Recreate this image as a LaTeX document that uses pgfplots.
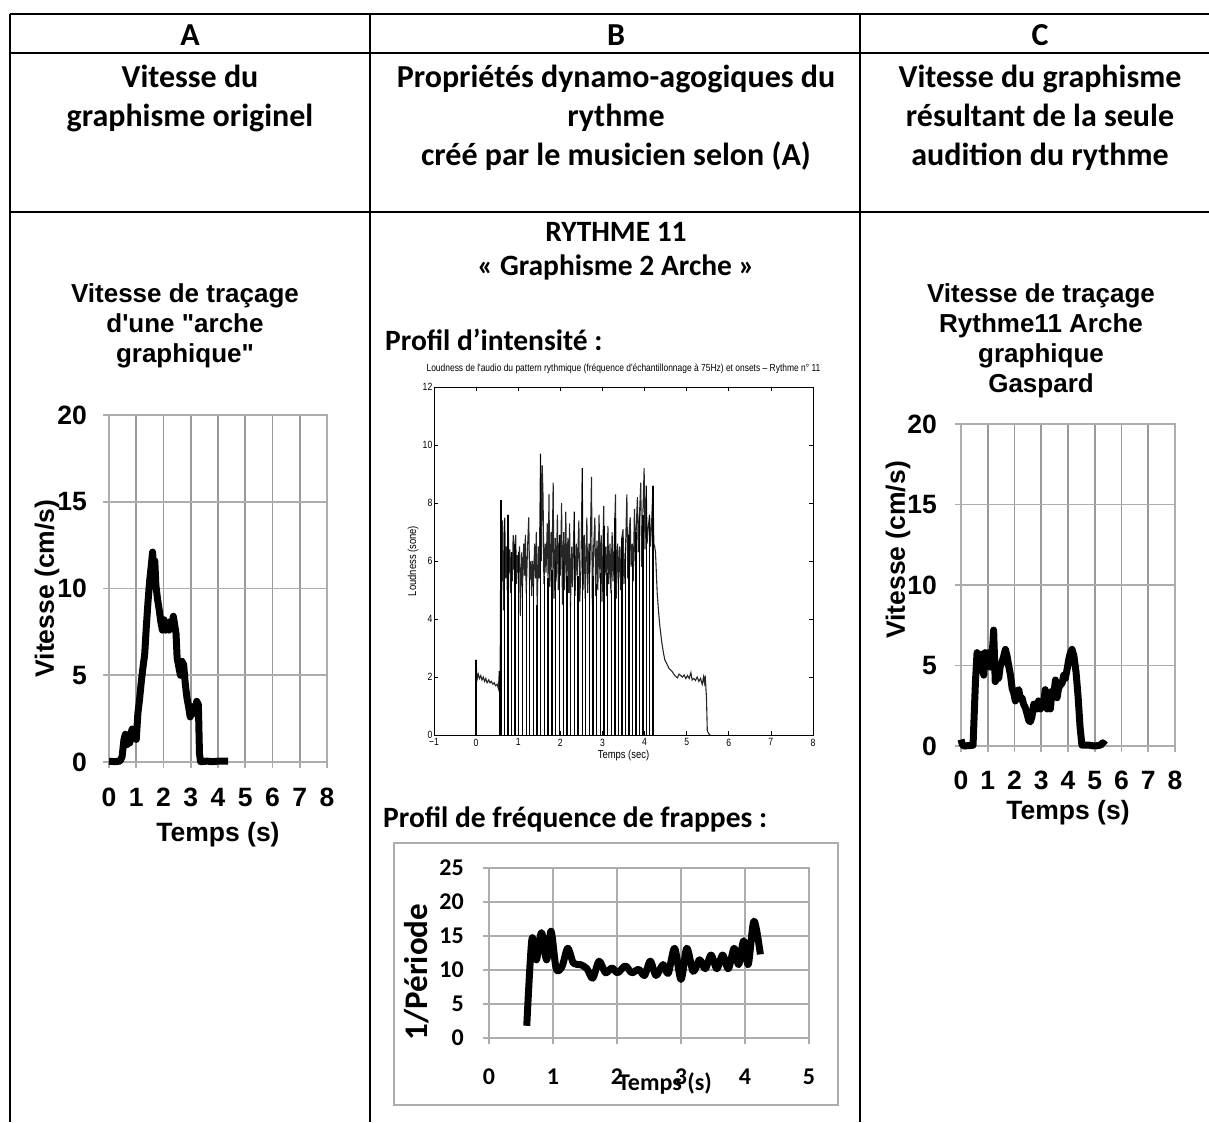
\documentclass[border=0pt]{standalone}
\usepackage{pgfplots}
\pgfplotsset{compat=1.18}
\usepackage{fontspec}
\setmainfont{Carlito}
\newfontfamily\arialfont{Liberation Sans}
\newfontfamily\narrowfont[FakeStretch=0.82]{Liberation Sans}
\newcommand\hf{\fontsize{32}{38}\selectfont\bfseries}
\newcommand\cf{\fontsize{29.5}{34}\selectfont\bfseries}
\newcommand\af{\arialfont\fontsize{26}{30}\selectfont\bfseries}
\newcommand\atf{\arialfont\fontsize{26.5}{30}\selectfont\bfseries}
\definecolor{gridgray}{HTML}{ADADAD}
\definecolor{vgridgray}{HTML}{999999}
\begin{document}
\begin{tikzpicture}
\useasboundingbox (0pt,0pt) rectangle (1209pt,-1122pt);
% table
\draw[line width=2.5pt] (10pt,-14pt) -- (1209pt,-14pt);
\draw[line width=1.8pt] (10pt,-53pt) -- (1209pt,-53pt);
\draw[line width=2.5pt] (10pt,-212pt) -- (1209pt,-212pt);
\foreach \xx in {10,370,860} {\draw[line width=1.8pt] (\xx pt,-14pt) -- (\xx pt,-1122pt);}
% header text
\node[anchor=base,inner sep=0pt,font=\hf] at (190pt,-45pt) {A};
\node[anchor=base,inner sep=0pt,font=\hf] at (616pt,-45pt) {B};
\node[anchor=base,inner sep=0pt,font=\hf] at (1040pt,-45pt) {C};
\node[anchor=base,inner sep=0pt,font=\hf] at (190pt,-87pt) {Vitesse du};
\node[anchor=base,inner sep=0pt,font=\hf] at (190pt,-126pt) {graphisme originel};
\node[anchor=base,inner sep=0pt,font=\hf] at (616pt,-87pt) {Propriétés dynamo-agogiques du};
\node[anchor=base,inner sep=0pt,font=\hf] at (616pt,-126pt) {rythme};
\node[anchor=base,inner sep=0pt,font=\hf] at (616pt,-165pt) {créé par le musicien selon (A)};
\node[anchor=base,inner sep=0pt,font=\hf] at (1040pt,-87pt) {Vitesse du graphisme};
\node[anchor=base,inner sep=0pt,font=\hf] at (1040pt,-126pt) {résultant de la seule};
\node[anchor=base,inner sep=0pt,font=\hf] at (1040pt,-165pt) {audition du rythme};
% content B text
\node[anchor=base,inner sep=0pt,font=\cf] at (616pt,-241pt) {RYTHME 11};
\node[anchor=base,inner sep=0pt,font=\cf] at (616pt,-275pt) {« Graphisme 2 Arche »};
\node[anchor=base west,inner sep=0pt,font=\cf] at (385pt,-350pt) {Profil d’intensité :};
\node[anchor=base west,inner sep=0pt,font=\cf] at (383pt,-827pt) {Profil de fréquence de frappes :};
% chart titles
\node[anchor=base,inner sep=0pt,font=\af] at (185pt,-302pt) {Vitesse de traçage};
\node[anchor=base,inner sep=0pt,font=\af] at (185pt,-332pt) {d'une "arche};
\node[anchor=base,inner sep=0pt,font=\af] at (185pt,-362pt) {graphique"};
\node[anchor=base,inner sep=0pt,font=\af] at (1041pt,-302pt) {Vitesse de traçage};
\node[anchor=base,inner sep=0pt,font=\af] at (1041pt,-332pt) {Rythme11 Arche};
\node[anchor=base,inner sep=0pt,font=\af] at (1041pt,-362pt) {graphique};
\node[anchor=base,inner sep=0pt,font=\af] at (1041pt,-392pt) {Gaspard};
% frame freq chart
\draw[gridgray,line width=1.5pt] (394pt,-843pt) rectangle (838pt,-1105pt);

\pgfplotsset{excelstyle/.style={
  scale only axis, clip=false,
  grid=major, 
  x grid style={draw=vgridgray,line width=1.6pt},
  y grid style={draw=gridgray,line width=1.6pt},
  axis line style={draw=gridgray,line width=1.6pt},
  tick style={draw=gridgray,line width=1.6pt},
  tick align=outside, major tick length=6pt,
  xtick pos=left, ytick pos=left,
  /pgf/number format/assume math mode=true,
  xticklabel style={anchor=center,inner sep=0pt},
  yticklabel style={anchor=east,inner sep=0pt},
}}

% Chart A
\begin{axis}[excelstyle, at={(109pt,-762pt)}, anchor=south west,
  width=218pt, height=347pt,
  xmin=0,xmax=8,ymin=0,ymax=20, xtick={0,...,8}, ytick={0,5,...,20},
  tick label style={font=\atf},
  xticklabel style={yshift=-29pt},
  yticklabel style={xshift=-16pt},
  xlabel={Temps (s)}, ylabel={Vitesse (cm/s)},
  label style={font=\atf},
  xlabel style={at={(axis description cs:0.5,-0.21)},anchor=center},
  ylabel style={at={(axis description cs:-0.284,0.5)},anchor=center},
]
\addplot[black,line width=7pt,line join=round] coordinates {
(0,0.05) (0.2,0.02) (0.4,0.05) (0.48,0.3) (0.55,1.3) (0.6,1.6) (0.66,1.0) (0.7,1.3) (0.76,1.1) (0.8,1.6) (0.85,1.9) (0.9,1.5) (0.94,1.8) (1.0,1.3) (1.06,2.8) (1.12,3.6) (1.19,4.7) (1.25,5.5) (1.31,6.2) (1.37,7.8) (1.43,9.2) (1.49,10.4) (1.55,11.3) (1.6,12.1) (1.64,11.0) (1.68,11.6) (1.72,10.2) (1.78,9.4) (1.84,8.8) (1.9,8.1) (1.96,7.6) (2.02,8.2) (2.08,7.6) (2.14,8.0) (2.2,7.6) (2.26,8.1) (2.3,7.7) (2.36,8.4) (2.42,7.8) (2.46,7.4) (2.5,6.0) (2.56,5.5) (2.62,5.0) (2.68,5.8) (2.74,5.6) (2.8,4.5) (2.86,3.7) (2.92,3.2) (2.98,2.6) (3.04,2.9) (3.1,3.2) (3.16,2.8) (3.22,3.5) (3.28,3.3) (3.32,0.5) (3.36,0.02) (3.6,0.05) (3.8,0.02) (4.0,0.05) (4.37,0.05)
};
\end{axis}

% Chart C
\begin{axis}[excelstyle, at={(961pt,-746pt)}, anchor=south west,
  width=214pt, height=322pt,
  xmin=0,xmax=8,ymin=0,ymax=20, xtick={0,...,8}, ytick={0,5,...,20},
  tick label style={font=\atf},
  xticklabel style={yshift=-28pt},
  yticklabel style={xshift=-18pt},
  xlabel={Temps (s)}, ylabel={Vitesse (cm/s)},
  label style={font=\atf},
  xlabel style={at={(axis description cs:0.5,-0.208)},anchor=center},
  ylabel style={at={(axis description cs:-0.294,0.609)},anchor=center},
]
\addplot[black,line width=7pt,line join=round] coordinates {
(0,0.4) (0.05,0.1) (0.1,0) (0.45,0.05) (0.54,4.0) (0.6,5.8) (0.66,5.3) (0.72,4.7) (0.78,5.7) (0.85,4.4) (0.9,5.8) (0.97,5.0) (1.03,5.8) (1.1,4.9) (1.16,5.5) (1.22,7.2) (1.28,4.0) (1.34,4.3) (1.41,4.2) (1.47,5.0) (1.53,5.2) (1.6,5.6) (1.66,6.0) (1.72,5.6) (1.78,5.0) (1.85,4.4) (1.91,3.6) (1.97,3.3) (2.03,2.8) (2.1,3.4) (2.16,3.5) (2.22,2.9) (2.28,3.0) (2.34,2.6) (2.4,2.4) (2.47,2.0) (2.53,1.6) (2.59,1.5) (2.65,1.8) (2.72,2.6) (2.78,2.6) (2.84,2.3) (2.9,2.8) (2.97,2.3) (3.03,2.5) (3.09,2.6) (3.15,3.5) (3.22,2.3) (3.28,2.6) (3.34,2.3) (3.4,3.4) (3.47,3.2) (3.53,4.1) (3.59,3.0) (3.65,3.6) (3.72,3.8) (3.78,3.9) (3.84,4.4) (3.9,4.2) (3.97,4.8) (4.03,5.4) (4.09,5.8) (4.15,6.0) (4.22,5.6) (4.3,4.6) (4.38,3.0) (4.45,1.2) (4.52,0.05) (4.8,0.05) (5.0,0.0) (5.2,0.05) (5.3,0.2) (5.4,0.05)
};
\end{axis}

% Chart B frequency
\begin{axis}[excelstyle, at={(489pt,-1038pt)}, anchor=south west,
  width=320pt, height=170pt,
  xmin=0,xmax=5,ymin=0,ymax=25, xtick={0,...,5}, ytick={0,5,...,25},
  x grid style={draw=gridgray,line width=1.6pt},
  tick label style={font=\fontsize{24}{26}\selectfont\bfseries},
  xticklabel style={yshift=-33pt},
  yticklabel style={xshift=-19pt},
  xlabel={Temps (s)}, ylabel={1/Période},
  xlabel style={font=\fontsize{24}{26}\selectfont\bfseries, at={(axis description cs:0.55,-0.265)},anchor=center},
  ylabel style={font=\fontsize{33}{36}\selectfont\bfseries, at={(axis description cs:-0.225,0.388)},anchor=center},
]
\addplot[black,line width=7pt,smooth,tension=0.5,line join=round] coordinates {
(0.59,1.8) (0.67,14.5) (0.74,11.5) (0.82,15.5) (0.90,11.5) (0.97,15.7) (1.05,10.2) (1.14,10.5) (1.23,13.2) (1.32,11.0) (1.43,10.8) (1.53,10.2) (1.62,8.8) (1.72,11.3) (1.82,9.6) (1.92,10.3) (2.01,9.6) (2.13,10.6) (2.23,9.6) (2.34,10.1) (2.43,9.2) (2.52,11.3) (2.61,9.2) (2.72,10.8) (2.80,9.5) (2.90,13.2) (3.00,8.6) (3.09,13.2) (3.19,9.8) (3.29,11.5) (3.38,10.2) (3.47,12.2) (3.56,10.2) (3.65,12.2) (3.74,10.2) (3.83,13.2) (3.90,10.8) (3.98,14.3) (4.05,10.8) (4.14,17.2) (4.24,12.3)
};
\end{axis}

% Chart B loudness
\begin{axis}[at={(434pt,-735pt)}, anchor=south west, scale only axis,
  width=379pt, height=348pt,
  xmin=-1,xmax=8,ymin=0,ymax=12, xtick={-1,...,8}, ytick={0,2,...,12},
  xticklabels={−1,0,1,2,3,4,5,6,7,8},
  tick align=inside, major tick length=4pt,
  axis line style={line width=0.7pt}, tick style={line width=0.7pt,black},
  tick label style={font=\narrowfont\fontsize{10.5}{11}\selectfont},
  /pgf/number format/assume math mode=true,
  xticklabel style={inner sep=3.5pt},
  yticklabel style={inner sep=1.5pt},
  xlabel={Temps (sec)}, ylabel={Loudness (sone)},
  label style={font=\narrowfont\fontsize{11.5}{12}\selectfont},
  xlabel style={at={(axis description cs:0.5,-0.06)},anchor=center},
  ylabel style={at={(axis description cs:-0.055,0.5)},anchor=center},
  title={Loudness de l'audio du pattern rythmique (fréquence d'échantillonnage à 75Hz) et onsets – Rythme n° 11},
  title style={font=\narrowfont\fontsize{10.3}{11}\selectfont, at={(axis description cs:0.5,1)}, anchor=south, yshift=7pt, inner sep=0pt},
]
\addplot[black!85,line width=1.1pt] coordinates {
(0,0) (0,2.6) (0.02,1.9) (0.05,2.1) (0.08,1.95) (0.11,2.05) (0.14,1.9) (0.17,2.0) (0.2,1.85) (0.23,1.95) (0.26,1.8) (0.3,1.9) (0.33,1.8) (0.36,1.85) (0.4,1.75) (0.43,1.8) (0.46,1.7) (0.5,1.75) (0.53,1.6) (0.55,2.2) (0.57,1.7)
(0.59,8.1) (0.61,5.3) (0.63,7.4) (0.65,4.3) (0.68,7.5) (0.70,5.4) (0.72,6.5) (0.74,5.0) (0.76,7.6) (0.78,5.6) (0.80,6.4) (0.82,4.9) (0.84,6.3) (0.86,5.3) (0.88,6.9) (0.90,5.7) (0.92,6.6) (0.94,6.9) (0.96,5.2) (0.98,6.2) (1.00,5.6) (1.03,6.5) (1.05,4.1) (1.08,6.3) (1.10,5.1) (1.13,6.6) (1.15,5.5) (1.17,6.9) (1.19,4.9) (1.22,6.4) (1.25,7.5) (1.27,5.3) (1.30,6.0) (1.32,4.8) (1.34,6.0) (1.36,5.1) (1.39,6.6) (1.41,5.4) (1.43,7.0) (1.45,4.4) (1.48,6.5) (1.50,5.4) (1.53,9.7) (1.55,6.0) (1.57,9.3) (1.59,8.2) (1.61,5.2) (1.64,6.6) (1.66,5.6) (1.69,7.3) (1.71,5.3) (1.73,8.3) (1.75,5.1) (1.78,7.0) (1.80,5.6) (1.83,8.7) (1.85,4.7) (1.88,6.8) (1.90,5.3) (1.93,7.6) (1.95,5.0) (1.98,6.9) (2.00,5.5) (2.03,8.0) (2.05,4.5) (2.08,7.0) (2.10,5.0) (2.13,7.7) (2.15,5.3) (2.18,6.8) (2.20,4.9) (2.22,7.3) (2.24,4.4) (2.27,6.5) (2.29,5.1) (2.33,7.7) (2.35,4.8) (2.38,6.6) (2.40,5.5) (2.44,7.4) (2.46,4.6) (2.49,5.8) (2.52,9.2) (2.54,5.0) (2.57,6.9) (2.59,4.7) (2.63,7.5) (2.65,4.9) (2.68,6.6) (2.70,5.6) (2.74,8.9) (2.76,4.5) (2.79,6.4) (2.82,7.5) (2.84,4.8) (2.87,6.7) (2.89,5.0) (2.92,7.6) (2.94,5.4) (2.97,6.9) (2.99,4.6) (3.03,7.9) (3.05,5.5) (3.08,6.5) (3.10,4.8) (3.13,7.2) (3.15,5.2) (3.18,6.6) (3.20,4.9) (3.23,7.0) (3.25,5.3) (3.28,6.5) (3.31,8.3) (3.33,4.7) (3.36,6.6) (3.38,5.4) (3.41,6.5) (3.43,5.0) (3.46,6.8) (3.49,7.1) (3.51,5.2) (3.55,6.5) (3.58,8.3) (3.60,5.4) (3.63,6.9) (3.66,7.5) (3.68,5.8) (3.71,6.6) (3.73,5.3) (3.76,7.8) (3.78,6.0) (3.80,7.0) (3.83,8.2) (3.85,6.3) (3.88,7.6) (3.91,8.7) (3.93,5.8) (3.96,7.6) (3.99,9.2) (4.01,6.4) (4.04,8.6) (4.06,6.6) (4.09,7.2) (4.12,7.6) (4.14,6.5) (4.17,7.4) (4.20,8.6) (4.22,6.6) (4.24,6.5)
(4.26,6.3) (4.28,5.6) (4.30,4.9) (4.33,4.3) (4.36,3.8) (4.40,3.3) (4.44,2.9) (4.48,2.6) (4.53,2.45) (4.58,2.3) (4.65,2.2) (4.72,2.05) (4.78,1.97) (4.82,2.1) (4.86,2.05) (4.90,2.0) (4.94,2.07) (4.98,1.95) (5.02,2.05) (5.06,1.95) (5.10,2.15) (5.13,1.9) (5.17,1.95) (5.21,1.88) (5.25,2.0) (5.29,1.85) (5.33,1.95) (5.37,1.75) (5.40,2.0) (5.42,1.8) (5.44,2.05) (5.47,1.3) (5.49,0.15) (5.52,0.05) (5.56,0)
};
\addplot[ycomb,black,line width=1.4pt] coordinates {
(0,2.6) (0.56,2.2) (0.59,8.1) (0.67,7.4) (0.76,7.6) (0.84,6.3) (0.92,6.6) (1.01,6.3) (1.10,5.2) (1.19,5.0) (1.27,5.4) (1.36,5.2) (1.45,4.5) (1.53,9.7) (1.62,5.5) (1.71,5.4) (1.80,5.7) (1.89,6.0) (1.98,6.9) (2.07,6.0) (2.16,5.5) (2.24,4.6) (2.33,7.7) (2.42,5.5) (2.52,9.2) (2.60,5.0) (2.69,6.3) (2.78,5.5) (2.86,5.2) (2.95,5.6) (3.04,7.2) (3.12,5.6) (3.21,5.0) (3.30,7.5) (3.38,5.4) (3.46,6.8) (3.55,6.5) (3.63,6.9) (3.72,6.0) (3.80,7.0) (3.88,7.6) (3.96,7.6) (4.04,8.6) (4.12,7.6) (4.20,8.6)
};
\end{axis}
\end{tikzpicture}
\end{document}
